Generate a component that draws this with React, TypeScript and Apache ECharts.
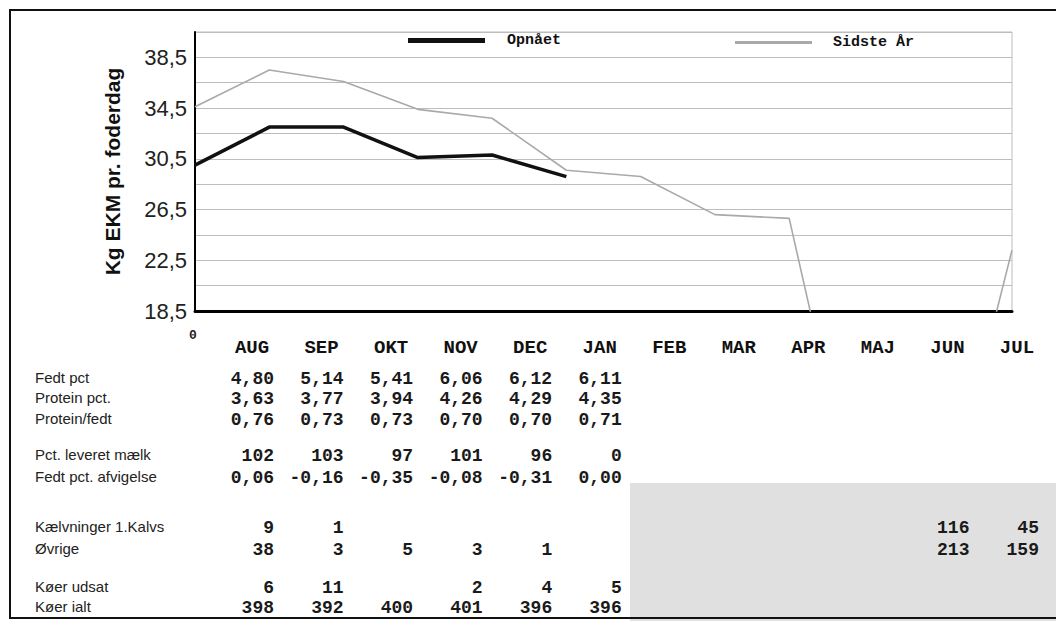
import React, { useEffect, useRef } from "react";
import * as echarts from "echarts";

// ---- data ----
const months = ["AUG", "SEP", "OKT", "NOV", "DEC", "JAN", "FEB", "MAR", "APR", "MAJ", "JUN", "JUL"];
const opnaaet = [30.0, 33.0, 33.0, 30.6, 30.8, 29.1, null, null, null, null, null, null];
const sidsteAar = [34.6, 37.5, 36.6, 34.4, 33.7, 29.6, 29.1, 26.1, 25.8, 0, 0, 23.3];
const yMin = 18.5;
const yMax = 40.5;
const yStep = 2;
const yLabelStep = 4;

const rowLabels = [
  "Fedt pct",
  "Protein pct.",
  "Protein/fedt",
  "Pct. leveret mælk",
  "Fedt pct. afvigelse",
  "Kælvninger 1.Kalvs",
  "Øvrige",
  "Køer udsat",
  "Køer ialt",
];
const fedtPct = [4.8, 5.14, 5.41, 6.06, 6.12, 6.11];
const proteinPct = [3.63, 3.77, 3.94, 4.26, 4.29, 4.35];
const proteinFedt = [0.76, 0.73, 0.73, 0.7, 0.7, 0.71];
const pctLeveret = [102, 103, 97, 101, 96, 0];
const fedtAfvigelse = [0.06, -0.16, -0.35, -0.08, -0.31, 0.0];
const kaelvninger1 = [9, 1, null, null, null, null, null, null, null, null, 116, 45];
const oevrige = [38, 3, 5, 3, 1, null, null, null, null, null, 213, 159];
const koerUdsat = [6, 11, null, 2, 4, 5];
const koerIalt = [398, 392, 400, 401, 396, 396];

const tableRows: { values: (number | null)[]; decimals: number }[] = [
  { values: fedtPct, decimals: 2 },
  { values: proteinPct, decimals: 2 },
  { values: proteinFedt, decimals: 2 },
  { values: pctLeveret, decimals: 0 },
  { values: fedtAfvigelse, decimals: 2 },
  { values: kaelvninger1, decimals: 0 },
  { values: oevrige, decimals: 0 },
  { values: koerUdsat, decimals: 0 },
  { values: koerIalt, decimals: 0 },
];
const rowY = [379, 399, 420, 456, 478, 528, 550, 588, 608];

const fmt = (v: number, d: number) => v.toFixed(d).replace(".", ",");

export default function App() {
  const ref = useRef<HTMLDivElement>(null);
  useEffect(() => {
    if (!ref.current) return;
    const chart = echarts.init(ref.current, null, { renderer: "svg" });
    const mono = "'Liberation Mono', 'DejaVu Sans Mono', monospace";
    const sans = "'Liberation Sans', Arial, sans-serif";
    chart.setOption({
      animation: false,
      backgroundColor: "#ffffff",
      grid: [
        { left: 195, top: 32, width: 817, height: 279, show: true, borderColor: "#bdbdbd", borderWidth: 1, backgroundColor: "transparent" },
        { left: 217.25, top: 330, width: 834.5, height: 2 },
      ],
      legend: [
        {
          data: ["Opnået"],
          left: 408,
          top: 33,
          padding: 0,
          icon: "rect",
          itemWidth: 77,
          itemHeight: 5,
          textStyle: { fontFamily: mono, fontWeight: "bold", fontSize: 15, color: "#111", padding: [0, 0, 0, 17] },
        },
        {
          data: ["Sidste År"],
          left: 735,
          top: 35,
          padding: 0,
          icon: "rect",
          itemWidth: 77,
          itemHeight: 3,
          textStyle: { fontFamily: mono, fontWeight: "bold", fontSize: 15, color: "#111", padding: [0, 0, 0, 16] },
        },
      ],
      xAxis: [
        {
          gridIndex: 0,
          type: "category",
          data: months,
          boundaryGap: false,
          axisLine: { show: true, lineStyle: { color: "#000", width: 3 } },
          axisTick: { show: false },
          axisLabel: { show: false },
          splitLine: { show: false },
        },
        {
          gridIndex: 1,
          type: "category",
          data: months,
          boundaryGap: true,
          axisLine: { show: false },
          axisTick: { show: false },
          axisLabel: { interval: 0, margin: 6, fontFamily: mono, fontWeight: "bold", fontSize: 19, color: "#111" },
          splitLine: { show: false },
        },
      ],
      yAxis: [
        {
          gridIndex: 0,
          type: "value",
          min: yMin,
          max: yMax,
          interval: yStep,
          name: "Kg EKM pr. foderdag",
          nameLocation: "middle",
          nameRotate: 90,
          nameGap: 72,
          nameTextStyle: { fontFamily: sans, fontWeight: "bold", fontSize: 21, color: "#111" },
          axisLine: { show: true, lineStyle: { color: "#000", width: 2 } },
          axisTick: { show: false },
          axisLabel: {
            margin: 8,
            fontFamily: sans,
            fontSize: 22,
            color: "#222",
            formatter: (v: number) => {
              const k = Math.round((v - yMin) / yStep);
              if (k % (yLabelStep / yStep) !== 0 || v >= yMax) return "";
              return fmt(v, 1);
            },
          },
          splitLine: { show: true, lineStyle: { color: "#bdbdbd", width: 1 } },
        },
        { gridIndex: 1, type: "value", show: false },
      ],
      series: [
        {
          name: "Opnået",
          type: "line",
          xAxisIndex: 0,
          yAxisIndex: 0,
          data: opnaaet,
          symbol: "none",
          clip: true,
          color: "#111",
          lineStyle: { color: "#111", width: 3.5 },
          z: 3,
        },
        {
          name: "Sidste År",
          type: "line",
          xAxisIndex: 0,
          yAxisIndex: 0,
          data: sidsteAar,
          symbol: "none",
          clip: true,
          color: "#a9a9a9",
          lineStyle: { color: "#a9a9a9", width: 1.6 },
          z: 2,
        },
      ],
    });

    const colX = months.map((m) => chart.convertToPixel({ xAxisIndex: 1 }, m) as number);
    const elements: any[] = [
      { type: "rect", z: 0, shape: { x: 630, y: 483, width: 440, height: 150 }, style: { fill: "#e0e0e0" }, silent: true },
      { type: "rect", z: 10, shape: { x: 10, y: 10, width: 1100, height: 608 }, style: { fill: "none", stroke: "#111", lineWidth: 2 }, silent: true },
      {
        type: "text",
        z: 10,
        x: 193,
        y: 335,
        style: { text: "0", font: `bold 13px ${mono}`, fill: "#222", textAlign: "center", textVerticalAlign: "middle", align: "center", verticalAlign: "middle" },
      },
    ];
    rowLabels.forEach((label, r) => {
      elements.push({
        type: "text",
        z: 10,
        x: 35,
        y: rowY[r] - 2,
        style: { text: label, font: `15px ${sans}`, fill: "#222", textAlign: "left", textVerticalAlign: "middle", align: "left", verticalAlign: "middle" },
      });
      tableRows[r].values.forEach((v, c) => {
        if (v === null || v === undefined) return;
        elements.push({
          type: "text",
          z: 10,
          x: colX[c] + 22,
          y: rowY[r],
          style: {
            text: fmt(v, tableRows[r].decimals),
            font: `bold 18px ${mono}`,
            fill: "#1a1a1a",
            textAlign: "right",
            textVerticalAlign: "middle",
            align: "right",
            verticalAlign: "middle",
          },
        });
      });
    });
    chart.setOption({ graphic: { elements } });

    return () => chart.dispose();
  }, []);

  return <div ref={ref} style={{ position: "absolute", left: 0, top: 0, width: 1056, height: 621 }} />;
}
